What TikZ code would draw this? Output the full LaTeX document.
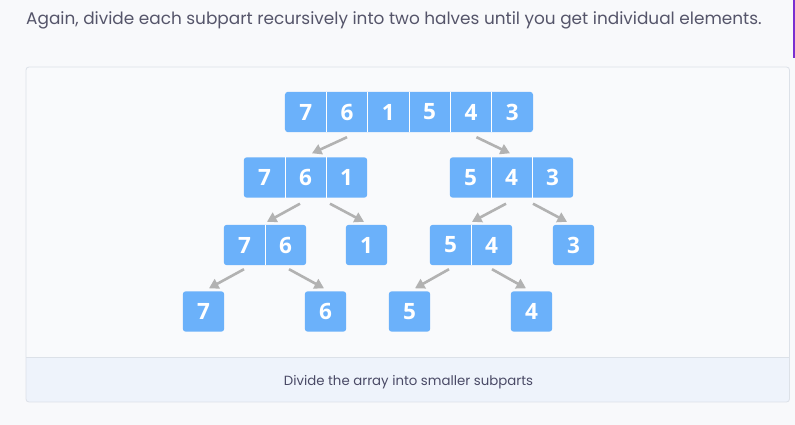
\documentclass[tikz,border=0pt]{standalone}
\usepackage{fontspec}
\setmainfont{Poppins}
\newfontfamily\numfont{Open Sans}
\usetikzlibrary{arrows.meta,calc,fit}
\pgfdeclarelayer{bottom}
\pgfdeclarelayer{boxes}
\pgfsetlayers{bottom,boxes,main}
\definecolor{pagebg}{HTML}{F8F9FB}
\definecolor{panelbg}{HTML}{F9FAFC}
\definecolor{bandbg}{HTML}{EEF3FB}
\definecolor{panelline}{HTML}{DCE1E8}
\definecolor{headtxt}{HTML}{55556A}
\definecolor{captxt}{HTML}{4A4A66}
\definecolor{cellblue}{HTML}{6BB1FA}
\definecolor{arrowgray}{HTML}{B2B2B2}
\definecolor{accent}{HTML}{7A2FD0}
\newcommand{\cellfont}{\numfont\bfseries\fontsize{22.5}{23}\selectfont}
\tikzset{
  cell/.style={minimum width=41pt,minimum height=40pt,inner sep=0pt,text=white,
    font=\cellfont},
  arrbg/.style={fill=cellblue,rounded corners=3pt,inner sep=0pt},
  sepline/.style={white,line width=0.8pt},
  conn/.style={arrowgray,line width=2.6pt,-{Triangle[length=9.5pt,width=10.5pt]}},
}
\begin{document}
\begin{tikzpicture}[x=1pt,y=-1pt]
\useasboundingbox (0,0) rectangle (795,425);
\begin{pgfonlayer}{bottom}
\fill[pagebg] (0,0) rectangle (795,425);
\fill[accent] (793,0) rectangle (795,58);
\fill[panelbg,rounded corners=3pt] (26,67) rectangle (789.5,402);
\begin{scope}
\clip[rounded corners=3pt] (26,67) rectangle (789.5,402);
\fill[bandbg] (26,357) rectangle (789.5,402);
\end{scope}
\draw[panelline,rounded corners=3pt,line width=0.8pt] (26,67) rectangle (789.5,402);
\draw[panelline,line width=0.8pt] (26,357) -- (789.5,357);
\end{pgfonlayer}
% heading
\node[anchor=base west,inner sep=0pt,text=headtxt,font=\fontsize{16.9}{17}\selectfont] (head) at (26,25)
  {Again, divide each subpart recursively into two halves until you get individual elements.};
\node[text=captxt,font=\fontsize{13.3}{14}\selectfont,anchor=base] (cap) at (408.5,385) {Divide the array into smaller subparts};
% row 1
\foreach \v [count=\i] in {7,6,1,5,4,3}{
  \node[cell] (t\i) at ({285+41.33*(\i-1)+20.67},112) {\v};
}
% row 2
\foreach \v [count=\i] in {7,6,1}{
  \node[cell] (l\i) at ({244+41*(\i-1)+20.5},177.5) {\v};
}
\foreach \v [count=\i] in {5,4,3}{
  \node[cell] (r\i) at ({450+41*(\i-1)+20.5},177.5) {\v};
}
% row 3
\node[cell] (ll1) at (244.5,245) {7};
\node[cell] (ll2) at (285.5,245) {6};
\node[cell] (lr) at (366.5,245) {1};
\node[cell] (rl1) at (450.5,245) {5};
\node[cell] (rl2) at (491.5,245) {4};
\node[cell] (rr) at (573.5,245) {3};
% row 4
\node[cell] (a7) at (203.5,311.5) {7};
\node[cell] (a6) at (325.5,311.5) {6};
\node[cell] (a5) at (409.5,311.5) {5};
\node[cell] (a4) at (531.5,311.5) {4};
% backgrounds
\begin{pgfonlayer}{boxes}
\node[arrbg,fit=(t1)(t6)] (top) {};
\node[arrbg,fit=(l1)(l3)] (left) {};
\node[arrbg,fit=(r1)(r3)] (right) {};
\node[arrbg,fit=(ll1)(ll2)] (ll) {};
\node[arrbg,fit=(lr)] (lrb) {};
\node[arrbg,fit=(rl1)(rl2)] (rl) {};
\node[arrbg,fit=(rr)] (rrb) {};
\node[arrbg,fit=(a7)] (b7) {};
\node[arrbg,fit=(a6)] (b6) {};
\node[arrbg,fit=(a5)] (b5) {};
\node[arrbg,fit=(a4)] (b4) {};
\end{pgfonlayer}
% separators
\foreach \n in {t1,t2,t3,t4,t5,l1,l2,r1,r2,ll1,rl1}{
  \draw[sepline] (\n.north east) -- (\n.south east);
}
% connectors
\draw[conn] ($(t2.south)+(0,5)$) -- ($(l2.north)+(6.5,-4)$);
\draw[conn] ($(t5.south)+(5.5,5)$) -- ($(r2.north)+(-1.5,-4)$);
\draw[conn] ($(l2.south)+(-5.5,6)$) -- ($(ll1.north)+(22.5,-3)$);
\draw[conn] ($(l3.south)+(-16.5,6)$) -- ($(lr.north)+(-2.5,-3)$);
\draw[conn] ($(r1.south)+(35.5,6)$) -- ($(rl1.north)+(21.5,-3)$);
\draw[conn] ($(r3.south)+(-19.5,6)$) -- ($(rr.north)+(-6.5,-3)$);
\draw[conn] ($(ll1.south)+(-0.5,4)$) -- ($(a7.north)+(5.5,-3)$);
\draw[conn] ($(ll2.south)+(3.5,4)$) -- ($(a6.north)+(-1.5,-3)$);
\draw[conn] ($(rl1.south)+(-1.5,4)$) -- ($(a5.north)+(5.5,-3)$);
\draw[conn] ($(rl2.south)+(0.5,4)$) -- ($(a4.north)+(-5.5,-3)$);
\end{tikzpicture}
\end{document}
